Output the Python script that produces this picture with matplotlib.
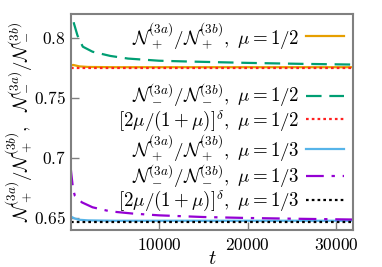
import matplotlib
matplotlib.use('Agg')
import matplotlib.pyplot as plt
from matplotlib.ticker import FuncFormatter

plt.rcParams['mathtext.fontset'] = 'cm'
plt.rcParams['font.family'] = 'DejaVu Serif'

# data
t_orange = [30, 300, 600, 1000, 2000, 5000, 10000, 20000, 32000]
v_orange = [0.7768, 0.7775, 0.7770, 0.7763, 0.7758, 0.7756, 0.7756, 0.7756, 0.7756]

t_green = [30, 200, 400, 800, 1400, 2500, 4500, 6500, 10000, 13000, 20000, 26000, 32000]
v_green = [0.86, 0.825, 0.812, 0.802, 0.7927, 0.7885, 0.785, 0.7828, 0.7810, 0.7804, 0.7792, 0.7784, 0.7778]

t_blue = [30, 100, 500, 1000, 2000, 5000, 10000, 20000, 32000]
v_blue = [0.6515, 0.651, 0.6495, 0.6485, 0.648, 0.6477, 0.6477, 0.6477, 0.6477]

t_purple = [30, 100, 300, 500, 1300, 2500, 4500, 7000, 10000, 15000, 20000, 26000, 32000]
v_purple = [0.692, 0.687, 0.674, 0.6686, 0.663, 0.6589, 0.6555, 0.6537, 0.6522, 0.6508, 0.6500, 0.6493, 0.6487]

t_range = [30, 32000]
red_level = 0.775    # [2mu/(1+mu)]^delta, mu=1/2
black_level = 0.6468  # [2mu/(1+mu)]^delta, mu=1/3

lab_p = r'$\mathcal{N}_+^{(3a)}/\mathcal{N}_+^{(3b)},\ \mu=%s$'
lab_m = r'$\mathcal{N}_-^{(3a)}/\mathcal{N}_-^{(3b)},\ \mu=%s$'
lab_f = r'$[2\mu/(1+\mu)]^{\delta},\ \mu=%s$'

fig = plt.figure(figsize=(3.82, 2.67), dpi=100)
ax = fig.add_axes([0.185, 0.140, 0.740, 0.807])

lw = 1.6
l1, = ax.plot(t_orange, v_orange, color='#E69F00', lw=lw, label=lab_p % '1/2')
l2, = ax.plot(t_green, v_green, color='#009E73', lw=lw, ls=(0, (7, 3.5)), label=lab_m % '1/2')
l3, = ax.plot(t_range, [red_level, red_level], color='#FF2020', lw=lw, ls=(0, (1.2, 1.4)), label=lab_f % '1/2')
l4, = ax.plot(t_blue, v_blue, color='#56B4E9', lw=lw, label=lab_p % '1/3')
l5, = ax.plot(t_purple, v_purple, color='#9400D3', lw=lw, ls=(0, (8, 3.5, 1.5, 3.5)), label=lab_m % '1/3')
l6, = ax.plot(t_range, [black_level, black_level], color='black', lw=lw, ls=(0, (1.2, 1.4)), label=lab_f % '1/3')

ax.set_xlim(30, 31950)
ax.set_ylim(0.6403, 0.8198)
ax.set_xticks([10000, 20000, 30000])
ax.set_yticks([0.65, 0.7, 0.75, 0.8])
fmt = FuncFormatter(lambda v, p: '$%g$' % v)
ax.xaxis.set_major_formatter(fmt)
ax.yaxis.set_major_formatter(fmt)
ax.tick_params(direction='in', length=6, width=1, color='gray', labelsize=12.5)
ax.tick_params(axis='x', pad=5)
for s in ax.spines.values():
    s.set_color('gray')
    s.set_linewidth(1.5)

ax.set_xlabel(r'$t$', fontsize=14.5)
ax.xaxis.set_label_coords(0.5, -0.088)
ax.set_ylabel(r'$\mathcal{N}_+^{(3a)}/\mathcal{N}_+^{(3b)},\ \ \mathcal{N}_-^{(3a)}/\mathcal{N}_-^{(3b)}$',
              fontsize=13.5, labelpad=0)

fs = 13.6
leg1 = ax.legend(handles=[l1], loc='center right', bbox_to_anchor=(0.967, 0.9026),
                 frameon=False, markerfirst=False, fontsize=fs, borderpad=0,
                 borderaxespad=0, handlelength=2.0, handletextpad=0.35)
ax.add_artist(leg1)
ax.legend(handles=[l2, l3, l4, l5, l6], loc='center right', bbox_to_anchor=(0.967, 0.38),
          frameon=False, markerfirst=False, fontsize=fs, borderpad=0,
          borderaxespad=0, handlelength=2.0, handletextpad=0.35, labelspacing=-0.05)

fig.savefig('out.png', dpi=100)
